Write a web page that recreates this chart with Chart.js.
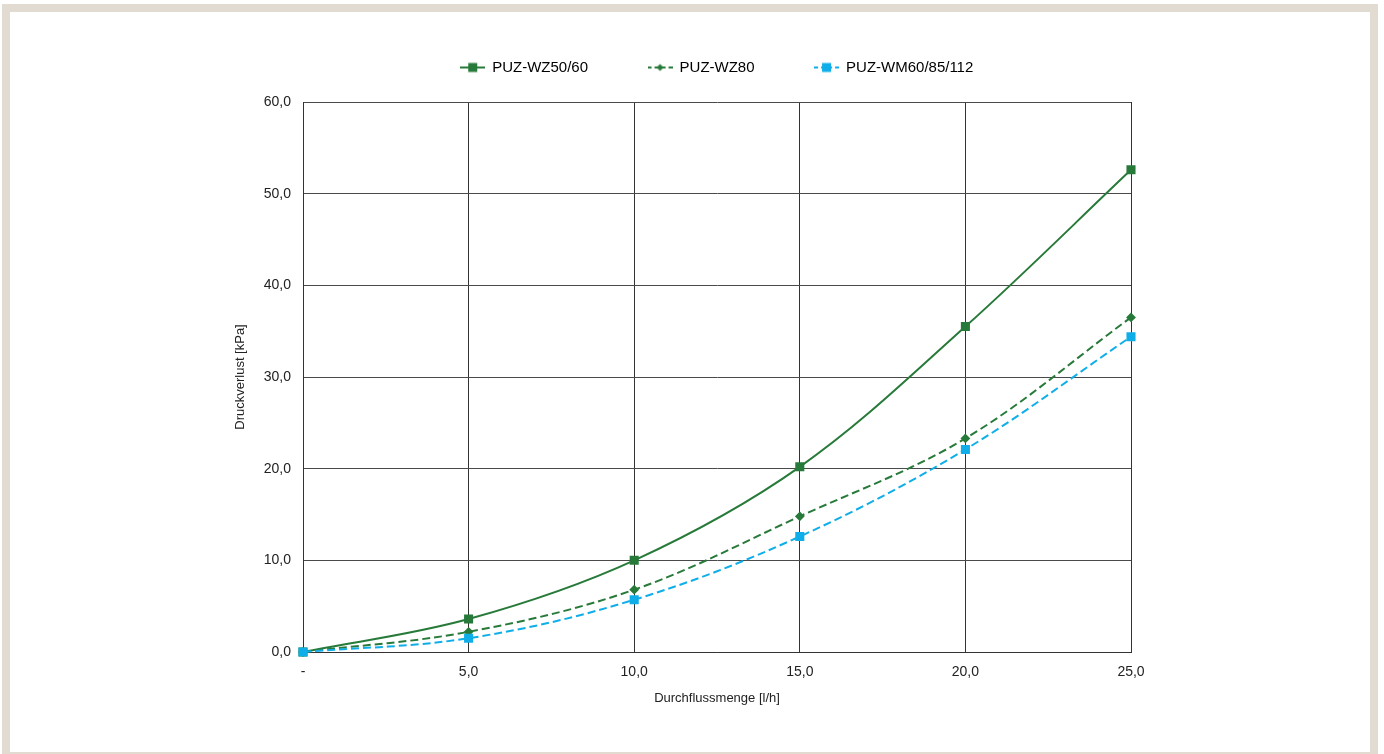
<!DOCTYPE html>
<html>
<head>
<meta charset="utf-8">
<script src="https://cdn.jsdelivr.net/npm/chart.js@4"></script>
<style>
    html, body { margin: 0; padding: 0; background: #fff; overflow: hidden; }
    #frame { position: absolute; left: 2px; top: 4px; width: 1360px; height: 740px; border: 8px solid #e2dbd1; }
    #frame canvas { display: block; }
</style>
</head>
<body>
<div id="frame"><canvas id="druckChart" width="1360" height="740"></canvas></div>
<script>
// Durchflussmenge [l/h]
const flow = [0, 5, 10, 15, 20, 25];
// Druckverlust [kPa]
const wz5060 = [0, 3.6, 10.0, 20.2, 35.5, 52.6];
const wz80 = [0, 2.2, 6.8, 14.8, 23.3, 36.5];
const wm6085112 = [0, 1.5, 5.7, 12.6, 22.1, 34.4];

const seriesNames = ["PUZ-WZ50/60", "PUZ-WZ80", "PUZ-WM60/85/112"];

const green = "#277a39";
const cyan = "#10aee8";
const font = "'Liberation Sans', Arial, sans-serif";

function toPoints(values) {
    return flow.map((x, i) => ({ x: x, y: values[i] }));
}

function fmt(v) {
    return v.toFixed(1).replace(".", ",");
}

// legend icon: short line with the marker in the middle
function legendIcon(color, dash, marker) {
    const c = document.createElement("canvas");
    c.width = 25;
    c.height = 12;
    const g = c.getContext("2d");
    g.strokeStyle = color;
    g.lineWidth = 2;
    g.setLineDash(dash);
    g.beginPath();
    g.moveTo(0, 6);
    g.lineTo(25, 6);
    g.stroke();
    g.fillStyle = color;
    if (marker === "rect") {
        g.fillRect(8, 1.5, 9, 9);
    } else {
        g.beginPath();
        g.moveTo(12.5, 2.5);
        g.lineTo(16, 6);
        g.lineTo(12.5, 9.5);
        g.lineTo(9, 6);
        g.closePath();
        g.fill();
    }
    return c;
}

const icons = [
    legendIcon(green, [], "rect"),
    legendIcon(green, [4, 3], "diamond"),
    legendIcon(cyan, [4, 3], "rect")
];

// put the legend over the plot area, at the very top
const legendOverPlot = {
    id: "legendOverPlot",
    afterLayout(chart) {
        const lg = chart.legend;
        const a = chart.chartArea;
        const h = lg.bottom - lg.top;
        lg.left = a.left;
        lg.right = a.right;
        lg.top = -12;
        lg.bottom = -12 + h;
    }
};

let ctx = document.getElementById("druckChart").getContext("2d");

let chart = new Chart(ctx, {
    type: "line",
    data: {
        datasets: [
            {
                label: seriesNames[0],
                data: toPoints(wz5060),
                borderColor: green,
                backgroundColor: green,
                borderWidth: 2,
                pointStyle: "rect",
                pointRadius: 5,
                tension: 0.35,
                clip: false,
                order: 3
            },
            {
                label: seriesNames[1],
                data: toPoints(wz80),
                borderColor: green,
                backgroundColor: green,
                borderWidth: 2,
                borderDash: [8, 4],
                pointStyle: "rectRot",
                pointRadius: 3.5,
                tension: 0.35,
                clip: false,
                order: 2
            },
            {
                label: seriesNames[2],
                data: toPoints(wm6085112),
                borderColor: cyan,
                backgroundColor: cyan,
                borderWidth: 2,
                borderDash: [8, 4],
                pointStyle: "rect",
                pointRadius: 5,
                tension: 0.35,
                clip: false,
                order: 1
            }
        ]
    },
    options: {
        responsive: false,
        animation: false,
        layout: { padding: { left: 219, right: 239, top: 5, bottom: 42 } },
        scales: {
            x: {
                type: "linear",
                min: 0,
                max: 25,
                afterFit: s => { s.height = 58; },
                ticks: {
                    stepSize: 5,
                    padding: 12,
                    color: "#222",
                    font: { family: font, size: 14 },
                    callback: v => (v === 0 ? "-" : fmt(v))
                },
                grid: { color: "#333", drawTicks: false },
                border: { color: "#333" },
                title: {
                    display: true,
                    text: "Durchflussmenge [l/h]",
                    color: "#222",
                    font: { family: font, size: 13 },
                    padding: { top: 4, bottom: 4 }
                }
            },
            y: {
                min: 0,
                max: 60,
                afterFit: s => { s.width = 74; },
                ticks: {
                    stepSize: 10,
                    padding: 12,
                    color: "#222",
                    font: { family: font, size: 14 },
                    callback: v => fmt(v)
                },
                grid: { color: "#4a4a4a", drawTicks: false },
                border: { color: "#333" },
                title: {
                    display: true,
                    text: "Druckverlust [kPa]",
                    color: "#222",
                    font: { family: font, size: 13 },
                    padding: { top: 4, bottom: 4 }
                }
            }
        },
        plugins: {
            legend: {
                position: "top",
                labels: {
                    usePointStyle: true,
                    pointStyleWidth: 24,
                    padding: 60,
                    color: "#222",
                    font: { family: font, size: 15 },
                    generateLabels: c => c.data.datasets.map((d, i) => ({
                        text: d.label,
                        pointStyle: icons[i],
                        fillStyle: d.borderColor,
                        strokeStyle: d.borderColor,
                        lineWidth: 0,
                        hidden: false,
                        datasetIndex: i
                    }))
                }
            },
            tooltip: { enabled: false }
        }
    },
    plugins: [legendOverPlot]
});
</script>
</body>
</html>
